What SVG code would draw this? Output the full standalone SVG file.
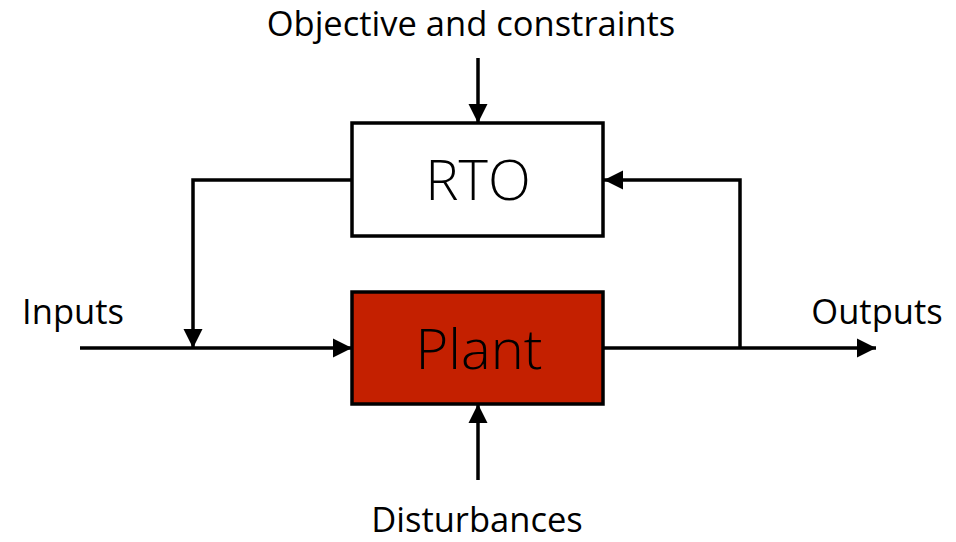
<svg xmlns="http://www.w3.org/2000/svg" width="956" height="542" viewBox="0 0 956 542">
  <style>
    .box { stroke: #000; stroke-width: 3.5; }
    .line { fill: none; stroke: #000; stroke-width: 3.5; }
    .lbl { font-family: "Open Sans", "Noto Sans", sans-serif; font-size: 34.5px; fill: #000; text-anchor: middle; }
    .big { font-family: "Open Sans", "Noto Sans", sans-serif; font-size: 56px; font-weight: 300; fill: #000; text-anchor: middle; }
  </style>
  <defs>
    <marker id="arrow" viewBox="0 0 10 10" refX="10" refY="5" markerWidth="5.5" markerHeight="5.5" markerUnits="strokeWidth" orient="auto">
      <path d="M0,0 L10,5 L0,10 z" fill="#000"/>
    </marker>
  </defs>
  <rect width="956" height="542" fill="#fff"/>

  <g id="connectors">
    <!-- objective into RTO -->
    <path class="line" d="M478,58 L478,123" marker-end="url(#arrow)"/>
    <!-- RTO setpoints down onto the input line -->
    <path class="line" d="M352,180 L193,180 L193,348" marker-end="url(#arrow)"/>
    <!-- inputs into plant -->
    <path class="line" d="M80,348 L352,348" marker-end="url(#arrow)"/>
    <!-- plant outputs -->
    <path class="line" d="M603,348 L876,348" marker-end="url(#arrow)"/>
    <!-- measurement feedback to RTO -->
    <path class="line" d="M740,348 L740,180 L604,180" marker-end="url(#arrow)"/>
    <!-- disturbances into plant -->
    <path class="line" d="M478,480 L478,404" marker-end="url(#arrow)"/>
  </g>

  <g id="rto">
    <rect class="box" x="352" y="123" width="251" height="113" fill="#fff"/>
    <text class="big" x="478" y="200">RTO</text>
  </g>

  <g id="plant">
    <rect class="box" x="352" y="292" width="251" height="112" fill="#C42000"/>
    <text class="big" x="479" y="369">Plant</text>
  </g>

  <g id="labels">
    <text class="lbl" x="471" y="36">Objective and constraints</text>
    <text class="lbl" x="73" y="324">Inputs</text>
    <text class="lbl" x="877" y="324">Outputs</text>
    <text class="lbl" x="477" y="532">Disturbances</text>
  </g>
</svg>
